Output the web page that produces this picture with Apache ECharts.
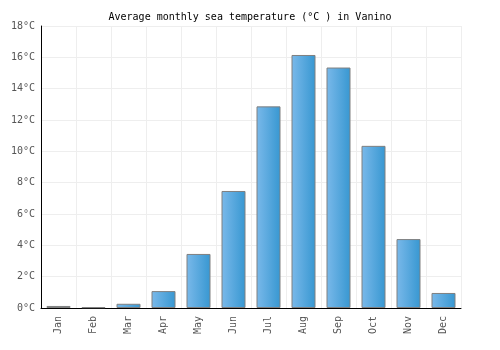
<!DOCTYPE html>
<html><head><meta charset="utf-8">
<script src="https://cdn.jsdelivr.net/npm/echarts@6/dist/echarts.min.js"></script>
<style>html,body{margin:0;padding:0;background:#fff}#c{width:500px;height:350px}</style>
</head><body><div id="c"></div>
<script>
const months = ['Jan','Feb','Mar','Apr','May','Jun','Jul','Aug','Sep','Oct','Nov','Dec'];
const seaTemp = [0.13, 0.05, 0.27, 1.08, 3.45, 7.47, 12.87, 16.15, 15.35, 10.35, 4.4, 0.96];
const yTicks = [0, 2, 4, 6, 8, 10, 12, 14, 16, 18];
const titleText = 'Average monthly sea temperature (°C ) in Vanino';

const chart = echarts.init(document.getElementById('c'));
const font = '"DejaVu Sans Mono", monospace';
chart.setOption({
  animation: false,
  title: {text: titleText, left: 'center', top: 7,
    textStyle: {fontFamily: font, fontSize: 10, fontWeight: 'normal', color: '#000'}},
  grid: {left: 41, right: 39, top: 26, bottom: 42},
  xAxis: {type: 'category', data: months,
    axisLine: {lineStyle: {color: '#000', width: 1}},
    axisTick: {show: false},
    splitLine: {show: true, lineStyle: {color: '#eeeeee'}},
    axisLabel: {rotate: 90, fontFamily: font, fontSize: 10, color: '#555', margin: 8}},
  yAxis: {type: 'value', min: yTicks[0], max: yTicks[yTicks.length-1], interval: 2,
    axisLine: {show: true, lineStyle: {color: '#000', width: 1}},
    axisTick: {show: false},
    splitLine: {lineStyle: {color: '#eeeeee'}},
    axisLabel: {formatter: v => v + '°C', fontFamily: font, fontSize: 10, color: '#555', margin: 6}},
  series: [{type: 'bar', data: seaTemp, barWidth: 24,
    itemStyle: {borderColor: '#808080', borderWidth: 1,
      color: new echarts.graphic.LinearGradient(0, 0, 1, 0, [
        {offset: 0, color: '#7ab9ea'}, {offset: 1, color: '#3797d1'}])}}]
});
</script></body></html>
